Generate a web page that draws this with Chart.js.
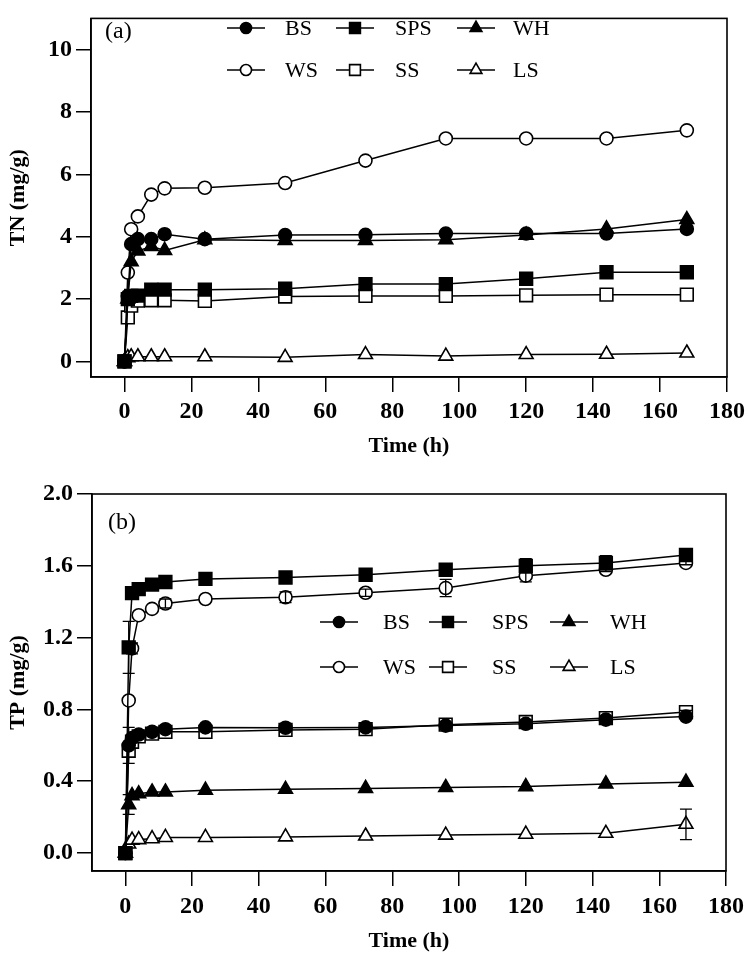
<!DOCTYPE html>
<html>
<head>
<meta charset="utf-8">
<script src="https://cdn.jsdelivr.net/npm/chart.js@4.4.1/dist/chart.umd.min.js"></script>
<style>
  body { margin: 0; background: #fff; }
  #wrap { position: relative; width: 750px; height: 955px; }
  canvas { position: absolute; left: 0; }
</style>
</head>
<body>
<div id="wrap">
  <canvas id="tn-chart" width="750" height="465" style="top:0"></canvas>
  <canvas id="tp-chart" width="750" height="490" style="top:465px"></canvas>
</div>
<script>
// sampling times (h)
const hours = [0, 1, 2, 4, 8, 12, 24, 48, 72, 96, 120, 144, 168];
const seriesNames = ["BS", "SPS", "WH", "WS", "SS", "LS"];

const timeTicks = [0, 20, 40, 60, 80, 100, 120, 140, 160, 180];
const tnTicks = [0, 2, 4, 6, 8, 10];
const tpTicks = [0, 0.4, 0.8, 1.2, 1.6, 2.0];

// (a) TN, mg/g
const tnBS  = [0, 2.1, 3.76, 3.92, 3.92, 4.08, 3.92, 4.05, 4.06, 4.1, 4.1, 4.1, 4.25];
const tnSPS = [0, 2.0, 2.1, 2.11, 2.3, 2.3, 2.3, 2.33, 2.48, 2.48, 2.65, 2.86, 2.86];
const tnWH  = [0, 2.0, 3.2, 3.54, 3.69, 3.56, 3.9, 3.88, 3.88, 3.9, 4.05, 4.25, 4.55];
const tnWS  = [0, 2.85, 4.24, 4.65, 5.35, 5.55, 5.57, 5.72, 6.44, 7.15, 7.15, 7.15, 7.41];
const tnSS  = [0, 1.41, 1.79, 1.95, 1.96, 1.96, 1.94, 2.08, 2.1, 2.1, 2.12, 2.14, 2.14];
const tnLS  = [0, 0.12, 0.15, 0.15, 0.15, 0.15, 0.15, 0.13, 0.22, 0.17, 0.22, 0.23, 0.27];

// (b) TP, mg/g
const tpBS  = [0, 0.6, 0.64, 0.66, 0.675, 0.69, 0.7, 0.698, 0.7, 0.71, 0.72, 0.743, 0.76];
const tpSPS = [0, 1.146, 1.448, 1.47, 1.495, 1.51, 1.527, 1.535, 1.55, 1.578, 1.6, 1.616, 1.66];
const tpWH  = [0, 0.27, 0.32, 0.33, 0.34, 0.34, 0.35, 0.355, 0.36, 0.365, 0.37, 0.385, 0.395];
const tpWS  = [0, 0.85, 1.14, 1.325, 1.36, 1.39, 1.415, 1.425, 1.45, 1.476, 1.545, 1.578, 1.616];
const tpSS  = [0, 0.57, 0.62, 0.65, 0.665, 0.675, 0.675, 0.686, 0.69, 0.715, 0.73, 0.752, 0.785];
const tpLS  = [0, 0.05, 0.072, 0.075, 0.08, 0.087, 0.087, 0.09, 0.095, 0.1, 0.105, 0.11, 0.16];

// (b) error bars (sd)
const tpErrBS  = [0, 0.1, 0, 0, 0, 0, 0, 0, 0, 0, 0.01, 0.01, 0.01];
const tpErrSPS = [0, 0.145, 0, 0, 0, 0, 0, 0, 0, 0.02, 0.04, 0.04, 0.01];
const tpErrWH  = [0, 0.055, 0, 0, 0, 0, 0, 0, 0, 0, 0, 0, 0];
const tpErrWS  = [0, 0, 0.03, 0, 0, 0.025, 0, 0.03, 0.02, 0.048, 0.035, 0.01, 0.01];
const tpErrSS  = [0, 0, 0, 0, 0, 0, 0, 0, 0, 0, 0.01, 0.01, 0.01];
const tpErrLS  = [0, 0, 0, 0, 0, 0, 0, 0, 0, 0, 0, 0, 0.085];

const serif = "'Liberation Serif', 'Times New Roman', serif";

// marker look per series, same order as seriesNames
const markerStyles = [
  { pointStyle: "circle",   radius: 6.5, fill: "#000" },
  { pointStyle: "rect",     radius: 9,   fill: "#000" },
  { pointStyle: "triangle", radius: 8,   fill: "#000" },
  { pointStyle: "circle",   radius: 6.5, fill: "#fff" },
  { pointStyle: "rect",     radius: 9,   fill: "#fff" },
  { pointStyle: "triangle", radius: 8,   fill: "#fff" },
];

function makeDatasets(seriesValues, seriesErrors) {
  return seriesValues.map((values, i) => ({
    label: seriesNames[i],
    data: hours.map((h, j) => ({ x: h, y: values[j] })),
    errors: seriesErrors ? seriesErrors[i] : null,
    borderColor: "#000",
    borderWidth: 1.5,
    pointStyle: markerStyles[i].pointStyle,
    pointRadius: markerStyles[i].radius,
    pointBackgroundColor: markerStyles[i].fill,
    pointBorderColor: "#000",
    pointBorderWidth: 1.6,
    tension: 0,
  }));
}

// draw a marker the same way chart.js does
function drawMarker(ctx, style, r, x, y) {
  ctx.beginPath();
  if (style === "circle") {
    ctx.arc(x, y, r, 0, Math.PI * 2);
  } else if (style === "rect") {
    const s = r * Math.SQRT1_2;
    ctx.rect(x - s, y - s, 2 * s, 2 * s);
  } else {
    ctx.moveTo(x, y - r);
    ctx.lineTo(x + r * Math.sin(Math.PI * 2 / 3), y - r * Math.cos(Math.PI * 2 / 3));
    ctx.lineTo(x + r * Math.sin(Math.PI * 4 / 3), y - r * Math.cos(Math.PI * 4 / 3));
    ctx.closePath();
  }
  ctx.fill();
  ctx.stroke();
}

// box around the plot, legend, panel letter and error bars
const decorPlugin = {
  id: "decor",
  afterDatasetsDraw(chart, args, opts) {
    const ctx = chart.ctx;
    const { left, right, top, bottom } = chart.chartArea;
    const yScale = chart.scales.y;
    ctx.save();
    ctx.strokeStyle = "#000";
    ctx.fillStyle = "#000";

    // error bars
    ctx.lineWidth = 1.3;
    chart.data.datasets.forEach((ds, i) => {
      if (!ds.errors) return;
      const meta = chart.getDatasetMeta(i);
      ds.errors.forEach((e, j) => {
        if (!e) return;
        const pt = meta.data[j];
        const v = ds.data[j].y;
        const y1 = yScale.getPixelForValue(v + e);
        const y2 = yScale.getPixelForValue(v - e);
        ctx.beginPath();
        ctx.moveTo(pt.x, y1); ctx.lineTo(pt.x, y2);
        ctx.moveTo(pt.x - 6, y1); ctx.lineTo(pt.x + 6, y1);
        ctx.moveTo(pt.x - 6, y2); ctx.lineTo(pt.x + 6, y2);
        ctx.stroke();
      });
    });

    // frame
    ctx.lineWidth = 1.6;
    ctx.strokeRect(left, top, right - left, bottom - top);

    // panel letter
    ctx.font = "24px " + serif;
    ctx.textBaseline = "middle";
    ctx.textAlign = "left";
    ctx.fillText(opts.letter, opts.letterX, opts.letterY);

    // legend, two rows of three
    ctx.font = "22px " + serif;
    seriesNames.forEach((name, i) => {
      const row = Math.floor(i / 3), col = i % 3;
      const mx = opts.markerX[col];
      const my = opts.rowY[row];
      ctx.lineWidth = 1.5;
      ctx.beginPath();
      ctx.moveTo(mx - 19, my); ctx.lineTo(mx + 19, my);
      ctx.stroke();
      ctx.fillStyle = markerStyles[i].fill;
      ctx.lineWidth = 1.6;
      drawMarker(ctx, markerStyles[i].pointStyle, markerStyles[i].radius * 0.85, mx, my);
      ctx.fillStyle = "#000";
      ctx.fillText(name, opts.textX[col], my + 1);
    });
    ctx.restore();
  }
};

function makeOptions(cfg) {
  return {
    responsive: false,
    animation: false,
    events: [],
    layout: { padding: { left: 0, right: 21, top: cfg.padTop, bottom: 0 } },
    plugins: {
      legend: { display: false },
      tooltip: { enabled: false },
      decor: cfg.decor,
    },
    scales: {
      x: {
        type: "linear",
        min: -10,
        max: 180,
        afterBuildTicks: (scale) => { scale.ticks = timeTicks.map(v => ({ value: v })); },
        afterFit: (scale) => { scale.height = cfg.xHeight; },
        border: { color: "#000", width: 1.6 },
        grid: { drawOnChartArea: false, drawTicks: true, tickLength: 15, color: "#000", lineWidth: 1.5 },
        ticks: {
          color: "#000",
          padding: cfg.xTickPad,
          maxRotation: 0,
          font: { family: serif, size: 24, weight: "bold" },
        },
        title: {
          display: true,
          text: "Time (h)",
          color: "#000",
          padding: { top: 0, bottom: cfg.xTitlePad },
          font: { family: serif, size: 22, weight: "bold" },
        },
      },
      y: {
        min: cfg.yMin,
        max: cfg.yMax,
        afterBuildTicks: (scale) => { scale.ticks = cfg.yTicks.map(v => ({ value: v })); },
        afterFit: (scale) => { scale.width = cfg.yWidth; },
        border: { color: "#000", width: 1.6 },
        grid: { drawOnChartArea: false, drawTicks: true, tickLength: 15, color: "#000", lineWidth: 1.5 },
        ticks: {
          color: "#000",
          padding: 4,
          callback: cfg.yFormat,
          font: { family: serif, size: 24, weight: "bold" },
        },
        title: {
          display: true,
          text: cfg.yTitle,
          color: "#000",
          padding: { top: 5, bottom: 0 },
          font: { family: serif, size: 22, weight: "bold" },
        },
      },
    },
  };
}

new Chart(document.getElementById("tn-chart"), {
  type: "line",
  data: { datasets: makeDatasets([tnBS, tnSPS, tnWH, tnWS, tnSS, tnLS]) },
  options: makeOptions({
    padTop: 1, xHeight: 88, yWidth: 91, xTickPad: 5, xTitlePad: 5,
    yMin: -0.5, yMax: 11, yTicks: tnTicks, yTitle: "TN (mg/g)",
    yFormat: (v) => String(v),
    decor: {
      letter: "(a)", letterX: 105, letterY: 32,
      markerX: [246, 355, 476], textX: [285, 395, 513], rowY: [28, 70],
    },
  }),
  plugins: [decorPlugin],
});

new Chart(document.getElementById("tp-chart"), {
  type: "line",
  data: {
    datasets: makeDatasets(
      [tpBS, tpSPS, tpWH, tpWS, tpSS, tpLS],
      [tpErrBS, tpErrSPS, tpErrWH, tpErrWS, tpErrSS, tpErrLS]
    ),
  },
  options: makeOptions({
    padTop: 29, xHeight: 84, yWidth: 92, xTickPad: 6, xTitlePad: 0,
    yMin: -0.1, yMax: 2.0, yTicks: tpTicks, yTitle: "TP (mg/g)",
    yFormat: (v) => v.toFixed(1),
    decor: {
      letter: "(b)", letterX: 108, letterY: 58,
      markerX: [339, 448, 569], textX: [383, 492, 610], rowY: [157, 202],
    },
  }),
  plugins: [decorPlugin],
});
</script>
</body>
</html>
